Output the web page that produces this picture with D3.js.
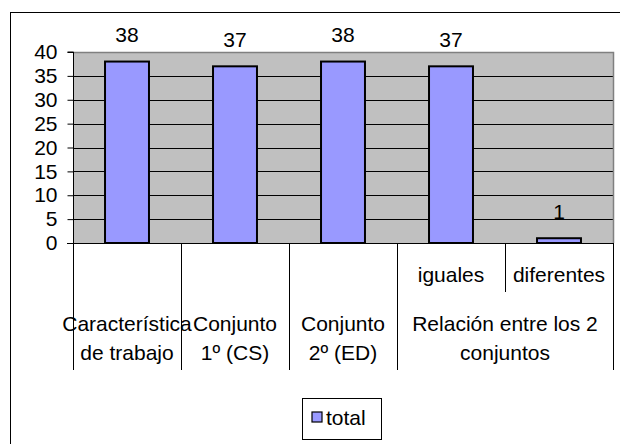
<!DOCTYPE html>
<html>
<head>
<meta charset="utf-8">
<script src="https://cdn.jsdelivr.net/npm/d3@7"></script>
<style>
  html, body { margin: 0; padding: 0; background: #fff; }
  svg { display: block; font-family: "Liberation Sans", Arial, sans-serif; }
</style>
</head>
<body>
<svg id="chart" width="620" height="444"></svg>
<script>
// ---- data ----
const subLabels = ["", "", "", "iguales", "diferentes"];
const values = [38, 37, 38, 37, 1];
const groupLabels = [
  ["Característica", "de trabajo"],
  ["Conjunto", "1º (CS)"],
  ["Conjunto", "2º (ED)"],
  ["Relación entre los 2", "conjuntos"]
];
const groupSpans = [1, 1, 1, 2];
const yTicks = [0, 5, 10, 15, 20, 25, 30, 35, 40];
const seriesName = "total";

// ---- layout ----
const svg = d3.select("#chart");
const plot = { left: 73, right: 613, top: 52, bottom: 243 };
const FS = 21;
const barFill = "#9999FF";

const x = d3.scaleBand().domain(d3.range(values.length)).range([plot.left, plot.right]).padding(0);
const y = d3.scaleLinear().domain([0, 40]).range([plot.bottom, plot.top]);
const barW = x.bandwidth() * 0.407;

// outer chart border
svg.append("rect").attr("x", 10.5).attr("y", 12.5).attr("width", 700).attr("height", 500)
  .attr("fill", "none").attr("stroke", "#000").attr("stroke-width", 1);

// plot background
svg.append("rect").attr("x", plot.left).attr("y", plot.top)
  .attr("width", plot.right - plot.left).attr("height", plot.bottom - plot.top)
  .attr("fill", "#C0C0C0");

// gridlines
svg.append("g").selectAll("line").data(yTicks.filter(t => t > 0 && t < 40)).join("line")
  .attr("x1", plot.left).attr("x2", plot.right)
  .attr("y1", d => Math.round(y(d)) + 0.5).attr("y2", d => Math.round(y(d)) + 0.5)
  .attr("stroke", "#000").attr("stroke-width", 1);

// plot top and right border (gray)
svg.append("path")
  .attr("d", `M${plot.left},${plot.top + 0.5}H${plot.right + 0.5}V${plot.bottom}`)
  .attr("fill", "none").attr("stroke", "#808080").attr("stroke-width", 1.5);

// bars
svg.append("g").selectAll("rect").data(values).join("rect")
  .attr("x", (d, i) => x(i) + (x.bandwidth() - barW) / 2)
  .attr("y", d => y(d))
  .attr("width", barW)
  .attr("height", d => y(0) - y(d))
  .attr("fill", barFill).attr("stroke", "#000").attr("stroke-width", 2);

// value labels
svg.append("g").selectAll("text").data(values).join("text")
  .attr("x", (d, i) => x(i) + x.bandwidth() / 2)
  .attr("y", d => y(d) - 19.5)
  .attr("text-anchor", "middle").attr("font-size", FS).attr("fill", "#000")
  .text(d => d);

// y axis
const yAxis = d3.axisLeft(y).tickValues(yTicks).tickSize(6).tickPadding(10).tickFormat(d3.format("d"));
const gy = svg.append("g").attr("transform", `translate(${plot.left + 0.5},0)`).call(yAxis);
gy.select(".domain").attr("d", `M-6,${plot.top}H0V${plot.bottom}`).attr("stroke", "#000");
gy.selectAll(".tick line").attr("stroke", "#000");
gy.selectAll(".tick text").attr("font-size", FS).attr("font-family", "Liberation Sans, Arial, sans-serif").attr("fill", "#000");

// x baseline
svg.append("line").attr("x1", plot.left - 6).attr("x2", plot.right)
  .attr("y1", plot.bottom + 0.5).attr("y2", plot.bottom + 0.5)
  .attr("stroke", "#000").attr("stroke-width", 1);

// category axis (multi-level)
const catG = svg.append("g");
// group boundaries
let starts = [0];
groupSpans.forEach((s, i) => starts.push(starts[i] + s));
const boundaryX = starts.map(s => s < values.length ? x(s) : plot.right);
catG.selectAll("line.grp").data(boundaryX).join("line").attr("class", "grp")
  .attr("x1", d => Math.round(d) + 0.5).attr("x2", d => Math.round(d) + 0.5)
  .attr("y1", plot.bottom).attr("y2", 370)
  .attr("stroke", "#000").attr("stroke-width", 1);
// inner sub-category dividers
const innerX = [];
groupSpans.forEach((s, gi) => {
  for (let k = 1; k < s; k++) innerX.push(x(starts[gi] + k));
});
catG.selectAll("line.sub").data(innerX).join("line").attr("class", "sub")
  .attr("x1", d => Math.round(d) + 0.5).attr("x2", d => Math.round(d) + 0.5)
  .attr("y1", plot.bottom).attr("y2", 292)
  .attr("stroke", "#000").attr("stroke-width", 1);
// sub labels
catG.selectAll("text.sub").data(subLabels).join("text").attr("class", "sub")
  .attr("x", (d, i) => x(i) + x.bandwidth() / 2).attr("y", 282)
  .attr("text-anchor", "middle").attr("font-size", FS).text(d => d);
// group labels
groupLabels.forEach((lines, gi) => {
  const cx = (x(starts[gi]) + (starts[gi + 1] < values.length ? x(starts[gi + 1]) : plot.right)) / 2;
  catG.append("text").attr("x", cx).attr("y", 331).attr("text-anchor", "middle")
    .attr("font-size", FS).text(lines[0]);
  catG.append("text").attr("x", cx).attr("y", 360).attr("text-anchor", "middle")
    .attr("font-size", FS).text(lines[1]);
});

// legend
const lg = svg.append("g");
lg.append("rect").attr("x", 302.5).attr("y", 398.5).attr("width", 79).attr("height", 41)
  .attr("fill", "#fff").attr("stroke", "#000").attr("stroke-width", 1);
lg.append("rect").attr("x", 312).attr("y", 412).attr("width", 10).attr("height", 10)
  .attr("fill", barFill).attr("stroke", "#000").attr("stroke-width", 1.2);
lg.append("text").attr("x", 326).attr("y", 425).attr("font-size", FS).text(seriesName);
</script>
</body>
</html>
